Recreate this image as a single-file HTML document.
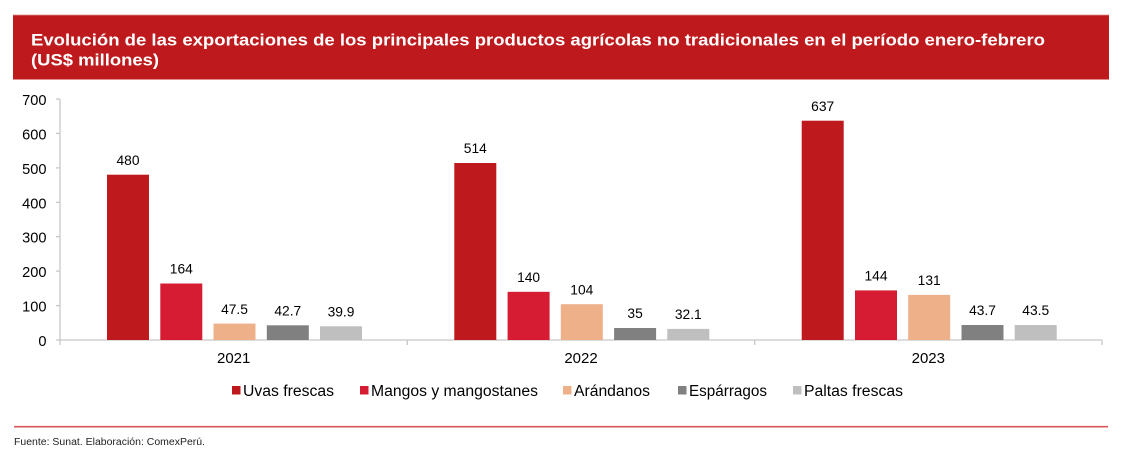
<!DOCTYPE html>
<html><head><meta charset="utf-8"><style>
html,body{margin:0;padding:0;background:#fff;}
svg{display:block;font-family:"Liberation Sans",Arial,sans-serif;}
</style></head><body>
<svg width="1126" height="456" viewBox="0 0 1126 456" xmlns="http://www.w3.org/2000/svg">
<rect x="13" y="15" width="1096" height="64.5" fill="#BE1A1D"/>
<line x1="13" y1="15" x2="1109" y2="15" stroke="#E08A8C" stroke-width="0.8"/>
<line x1="13" y1="79.5" x2="1109" y2="79.5" stroke="#E08A8C" stroke-width="0.8"/>
<text x="31" y="45.7" fill="#fff" font-weight="bold" font-size="16.5" textLength="1014" lengthAdjust="spacingAndGlyphs">Evolución de las exportaciones de los principales productos agrícolas no tradicionales en el período enero-febrero</text>
<text x="31" y="65.3" fill="#fff" font-weight="bold" font-size="16.5" textLength="128" lengthAdjust="spacingAndGlyphs">(US$ millones)</text>

<g stroke="#C8C8C8" stroke-width="1.3" fill="none">
<line x1="60" y1="99" x2="60" y2="345"/>
<line x1="56" y1="340" x2="1102" y2="340"/>
<line x1="56" y1="99" x2="60" y2="99"/>
<line x1="56" y1="133.4" x2="60" y2="133.4"/>
<line x1="56" y1="167.9" x2="60" y2="167.9"/>
<line x1="56" y1="202.3" x2="60" y2="202.3"/>
<line x1="56" y1="236.7" x2="60" y2="236.7"/>
<line x1="56" y1="271.1" x2="60" y2="271.1"/>
<line x1="56" y1="305.6" x2="60" y2="305.6"/>
<line x1="407.3" y1="340" x2="407.3" y2="345"/>
<line x1="754.7" y1="340" x2="754.7" y2="345"/>
<line x1="1102" y1="340" x2="1102" y2="345"/>
</g>
<g font-size="14.6" fill="#000" text-anchor="end">
<text x="46.5" y="105">700</text>
<text x="46.5" y="139.4">600</text>
<text x="46.5" y="173.9">500</text>
<text x="46.5" y="208.3">400</text>
<text x="46.5" y="242.7">300</text>
<text x="46.5" y="277.1">200</text>
<text x="46.5" y="311.6">100</text>
<text x="46.5" y="346">0</text>
</g>

<g>
<rect x="107" y="174.7" width="42" height="165.3" fill="#BE1A1D"/>
<rect x="160.3" y="283.5" width="42" height="56.5" fill="#D61C33"/>
<rect x="213.5" y="323.6" width="42" height="16.4" fill="#EDB088"/>
<rect x="266.8" y="325.3" width="42" height="14.7" fill="#808080"/>
<rect x="320" y="326.3" width="42" height="13.7" fill="#BFBFBF"/>
<rect x="454.3" y="163.0" width="42" height="177.0" fill="#BE1A1D"/>
<rect x="507.6" y="291.8" width="42" height="48.2" fill="#D61C33"/>
<rect x="560.8" y="304.2" width="42" height="35.8" fill="#EDB088"/>
<rect x="614.1" y="328.0" width="42" height="12.0" fill="#808080"/>
<rect x="667.3" y="328.9" width="42" height="11.1" fill="#BFBFBF"/>
<rect x="801.7" y="120.7" width="42" height="219.3" fill="#BE1A1D"/>
<rect x="855" y="290.4" width="42" height="49.6" fill="#D61C33"/>
<rect x="908.2" y="294.9" width="42" height="45.1" fill="#EDB088"/>
<rect x="961.5" y="325.0" width="42" height="15.0" fill="#808080"/>
<rect x="1014.7" y="325.0" width="42" height="15.0" fill="#BFBFBF"/>
</g>
<g font-size="13.8" fill="#000" text-anchor="middle">
<text x="128" y="165">480</text>
<text x="181.3" y="273.7">164</text>
<text x="234.5" y="313.8">47.5</text>
<text x="287.8" y="315.5">42.7</text>
<text x="341" y="316.5">39.9</text>
<text x="475.3" y="153.2">514</text>
<text x="528.6" y="282">140</text>
<text x="581.8" y="294.4">104</text>
<text x="635.1" y="318.2">35</text>
<text x="688.3" y="319.1">32.1</text>
<text x="822.7" y="110.9">637</text>
<text x="876" y="280.6">144</text>
<text x="929.2" y="285.1">131</text>
<text x="982.5" y="315.2">43.7</text>
<text x="1035.7" y="315.2">43.5</text>
</g>
<g font-size="15" fill="#000" text-anchor="middle">
<text x="233.7" y="363">2021</text>
<text x="581" y="363">2022</text>
<text x="928.3" y="363">2023</text>
</g>

<g font-size="15.5" fill="#000">
<rect x="232" y="386" width="8.5" height="8.5" fill="#BE1A1D"/>
<text x="243" y="396" textLength="91" lengthAdjust="spacingAndGlyphs">Uvas frescas</text>
<rect x="360" y="386" width="8.5" height="8.5" fill="#D61C33"/>
<text x="371" y="396" textLength="167" lengthAdjust="spacingAndGlyphs">Mangos y mangostanes</text>
<rect x="563" y="386" width="8.5" height="8.5" fill="#EDB088"/>
<text x="574" y="396" textLength="76" lengthAdjust="spacingAndGlyphs">Arándanos</text>
<rect x="678" y="386" width="8.5" height="8.5" fill="#808080"/>
<text x="689" y="396" textLength="78" lengthAdjust="spacingAndGlyphs">Espárragos</text>
<rect x="793" y="386" width="8.5" height="8.5" fill="#BFBFBF"/>
<text x="804" y="396" textLength="99" lengthAdjust="spacingAndGlyphs">Paltas frescas</text>
</g>

<line x1="14" y1="426.7" x2="1108" y2="426.7" stroke="#D9545B" stroke-width="1.6"/>
<text x="14" y="445" font-size="10" fill="#222" textLength="191" lengthAdjust="spacingAndGlyphs">Fuente: Sunat. Elaboración: ComexPerú.</text>
</svg>
</body></html>
